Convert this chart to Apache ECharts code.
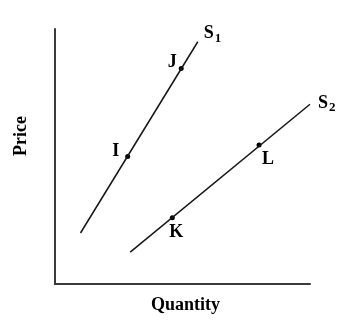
<!DOCTYPE html>
<html>
<head>
<meta charset="utf-8">
<script src="https://cdn.jsdelivr.net/npm/echarts@6/dist/echarts.min.js"></script>
<style>
html,body{margin:0;padding:0;background:#fff;}
#chart{width:343px;height:325px;}
</style>
</head>
<body>
<div id="chart"></div>
<script>
// Data
const xAxisTitle = 'Quantity';
const yAxisTitle = 'Price';
const supplyNames = ['S1', 'S2'];
const s1Line = [[10, 20], [56, 95]];
const s2Line = [[29.5, 12.5], [100, 70.5]];
const pointNames = ['I', 'J', 'K', 'L'];
const pointX = [28.5, 49.5, 46, 80];
const pointY = [50, 84.5, 26, 54.5];

const FONT = '"Liberation Serif", "Times New Roman", serif';
const INK = '#000000';

const labelOffsets = {
  I: [-12, -5],
  J: [-9, -6],
  K: [4, 15],
  L: [9, 14]
};

const richSub = {
  s: { fontFamily: FONT, fontWeight: 'bold', fontSize: 18, color: INK, lineHeight: 20 },
  sub: { fontFamily: FONT, fontWeight: 'bold', fontSize: 13, color: INK, lineHeight: 20, padding: [9, 0, 0, 1] }
};

function subLabel(name) {
  return '{s|' + name.charAt(0) + '}{sub|' + name.slice(1) + '}';
}

const chart = echarts.init(document.getElementById('chart'), null, { renderer: 'canvas' });

const gridLeft = 55, gridTop = 29, gridW = 255, gridH = 255;

chart.setOption({
  animation: false,
  backgroundColor: '#ffffff',
  grid: { left: gridLeft, top: gridTop, width: gridW, height: gridH, containLabel: false },
  xAxis: {
    type: 'value', min: 0, max: 100,
    axisLine: { show: true, lineStyle: { color: '#3a3a3a', width: 2 } },
    axisTick: { show: false }, axisLabel: { show: false }, splitLine: { show: false }
  },
  yAxis: {
    type: 'value', min: 0, max: 100,
    axisLine: { show: true, lineStyle: { color: '#3a3a3a', width: 2 } },
    axisTick: { show: false }, axisLabel: { show: false }, splitLine: { show: false }
  },
  graphic: [
    {
      type: 'text', x: 185.5, y: 305,
      style: { text: xAxisTitle, font: 'bold 18px ' + FONT, fill: INK, align: 'center', verticalAlign: 'middle' }
    },
    {
      type: 'text', x: 21.5, y: 136, rotation: Math.PI / 2,
      style: { text: yAxisTitle, font: 'bold 18px ' + FONT, fill: INK, align: 'center', verticalAlign: 'middle' }
    }
  ],
  series: [
    {
      type: 'line', name: supplyNames[0], data: s1Line, symbol: 'none', silent: true,
      lineStyle: { color: '#151515', width: 1.5 },
      endLabel: { show: true, formatter: subLabel(supplyNames[0]), rich: richSub, distance: 6, offset: [0, -8] }
    },
    {
      type: 'line', name: supplyNames[1], data: s2Line, symbol: 'none', silent: true,
      lineStyle: { color: '#151515', width: 1.5 },
      endLabel: { show: true, formatter: subLabel(supplyNames[1]), rich: richSub, distance: 8, offset: [0, -1] }
    },
    {
      type: 'scatter', silent: true,
      symbol: 'circle', symbolSize: 5,
      itemStyle: { color: '#000', opacity: 1 },
      data: pointNames.map((n, i) => ({
        name: n, value: [pointX[i], pointY[i]],
        label: { offset: labelOffsets[n] }
      })),
      label: {
        show: true, position: 'inside', formatter: '{b}',
        fontFamily: FONT, fontWeight: 'bold', fontSize: 18, color: INK
      }
    }
  ]
});
</script>
</body>
</html>
